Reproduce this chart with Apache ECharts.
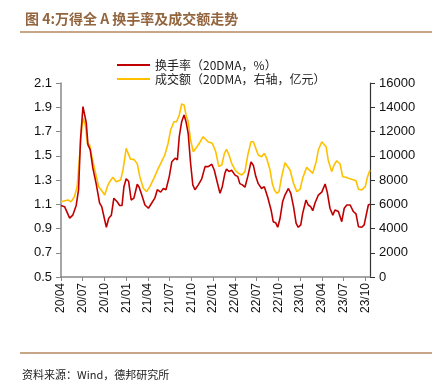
<!DOCTYPE html>
<html><head><meta charset="utf-8">
<script src="https://cdn.jsdelivr.net/npm/echarts@6/dist/echarts.min.js"></script>
<style>html,body{margin:0;padding:0;background:#fff}#c{width:436px;height:381px}</style>
</head><body><div id="c"></div>
<script>
var titleText = '图 4:万得全 A 换手率及成交额走势';
var sourceText = '资料来源：Wind，德邦研究所';
var turnoverName = '换手率（20DMA，%）';
var amountName = '成交额（20DMA，右轴，亿元）';
var xTickLabels = ['20/04','20/07','20/10','21/01','21/04','21/07','21/10','22/01','22/04','22/07','22/10','23/01','23/04','23/07','23/10'];
var leftTicks = [0.5, 2.1, 0.2];
var rightTicks = [0, 16000, 2000];

var turnoverDates = ['2020-04-01','2020-04-16','2020-05-07','2020-05-20','2020-06-04','2020-06-14','2020-06-22','2020-07-02','2020-07-06','2020-07-16','2020-07-23','2020-08-02','2020-08-13','2020-08-27','2020-09-11','2020-09-20','2020-10-02','2020-10-09','2020-10-19','2020-10-30','2020-11-10','2020-11-24','2020-12-04','2020-12-14','2020-12-22','2021-01-01','2021-01-11','2021-01-22','2021-02-03','2021-02-17','2021-02-25','2021-03-05','2021-03-19','2021-04-03','2021-04-17','2021-04-30','2021-05-10','2021-05-24','2021-06-05','2021-06-16','2021-06-30','2021-07-10','2021-07-24','2021-08-03','2021-08-11','2021-08-21','2021-08-31','2021-09-09','2021-09-18','2021-09-28','2021-10-07','2021-10-16','2021-10-30','2021-11-14','2021-11-28','2021-12-11','2021-12-26','2022-01-06','2022-01-16','2022-01-30','2022-02-09','2022-02-20','2022-02-27','2022-03-07','2022-03-18','2022-04-02','2022-04-13','2022-04-22','2022-05-02','2022-05-13','2022-05-25','2022-06-08','2022-06-18','2022-06-28','2022-07-08','2022-07-22','2022-08-03','2022-08-17','2022-09-01','2022-09-10','2022-09-20','2022-09-29','2022-10-08','2022-10-19','2022-10-29','2022-11-13','2022-11-23','2022-12-04','2022-12-15','2022-12-24','2023-01-04','2023-01-12','2023-01-18','2023-01-26','2023-02-05','2023-02-15','2023-02-24','2023-03-03','2023-03-17','2023-04-01','2023-04-15','2023-04-24','2023-05-05','2023-05-17','2023-05-26','2023-06-10','2023-06-24','2023-07-04','2023-07-15','2023-07-29','2023-08-12','2023-08-23','2023-09-03','2023-09-17','2023-09-27','2023-10-05','2023-10-14','2023-10-21'];
var turnoverValues = [1.09,1.08,0.985,1.01,1.09,1.22,1.63,1.905,1.92,1.77,1.59,1.55,1.40,1.27,1.11,1.08,0.97,0.91,0.985,1.01,1.15,1.12,1.09,1.09,1.245,1.31,1.29,1.135,1.15,1.265,1.24,1.18,1.094,1.067,1.11,1.15,1.22,1.20,1.23,1.22,1.33,1.45,1.48,1.465,1.66,1.78,1.836,1.78,1.685,1.44,1.26,1.22,1.26,1.31,1.41,1.41,1.43,1.38,1.30,1.19,1.245,1.355,1.39,1.37,1.38,1.34,1.33,1.27,1.26,1.24,1.33,1.45,1.42,1.33,1.27,1.23,1.245,1.16,1.053,0.956,0.948,0.91,0.98,1.12,1.176,1.23,1.19,1.08,0.943,0.91,0.93,1.025,1.04,1.135,1.094,1.08,1.047,1.11,1.176,1.20,1.267,1.20,1.067,1.01,1.053,1.04,0.956,1.067,1.094,1.094,1.04,1.02,0.915,0.91,0.93,1.01,1.094,1.10];

var amountDates = ['2020-04-01','2020-04-30','2020-05-13','2020-05-27','2020-06-08','2020-06-18','2020-06-28','2020-07-03','2020-07-12','2020-07-20','2020-07-30','2020-08-09','2020-08-23','2020-09-07','2020-09-18','2020-10-02','2020-10-13','2020-10-23','2020-11-06','2020-11-20','2020-12-08','2020-12-18','2021-01-01','2021-01-08','2021-01-19','2021-02-03','2021-02-17','2021-02-28','2021-03-12','2021-03-26','2021-04-09','2021-04-26','2021-05-14','2021-05-28','2021-06-11','2021-06-25','2021-07-05','2021-07-19','2021-07-30','2021-08-11','2021-08-21','2021-08-31','2021-09-09','2021-09-18','2021-09-28','2021-10-09','2021-10-20','2021-11-04','2021-11-20','2021-11-28','2021-12-10','2021-12-28','2022-01-12','2022-01-25','2022-02-07','2022-02-18','2022-02-27','2022-03-07','2022-03-18','2022-04-02','2022-04-16','2022-04-30','2022-05-13','2022-05-25','2022-06-08','2022-06-18','2022-06-28','2022-07-08','2022-07-22','2022-08-03','2022-08-13','2022-08-27','2022-09-06','2022-09-15','2022-09-25','2022-10-04','2022-10-15','2022-10-29','2022-11-08','2022-11-20','2022-12-04','2022-12-18','2023-01-01','2023-01-12','2023-01-22','2023-01-29','2023-02-09','2023-02-24','2023-03-08','2023-03-17','2023-04-01','2023-04-08','2023-04-19','2023-04-28','2023-05-12','2023-05-22','2023-06-03','2023-06-17','2023-06-28','2023-07-12','2023-07-21','2023-08-05','2023-08-23','2023-09-03','2023-09-17','2023-10-01','2023-10-10','2023-10-21'];
var amountValues = [6210,6350,6210,6620,7450,9920,12400,13090,12540,11030,10890,9920,8690,7450,7180,6760,7450,7860,8220,7860,8000,8830,10610,10750,9720,9700,9350,8270,7320,7040,7450,8140,8960,9510,10060,11030,12120,12810,12810,13360,14270,14190,13360,12810,11300,10330,10610,11030,11570,11570,11160,11030,10330,9100,9240,10200,10530,10060,9380,8830,8550,8410,8690,10060,11160,11160,10610,10060,9920,10200,9790,8830,7730,7180,6900,7040,8270,9430,9160,8830,7730,7040,7230,8140,8690,9050,8830,8550,9510,10470,11160,11300,10750,9650,8690,9240,9590,9320,8270,8220,8140,8060,7940,7230,7180,7450,8220,8830];

function monthIndex(s){
  var p = s.split('-');
  return (parseInt(p[0],10)-2020)*12 + (parseInt(p[1],10)-4) + (parseInt(p[2],10)-1)/30.5;
}
function pairs(d, v){ return d.map(function(x,i){ return [monthIndex(x), v[i]]; }); }
var xTickValues = xTickLabels.map(function(l,i){ return i*3; });
var xMax = monthIndex(turnoverDates[turnoverDates.length-1]);

var chart = echarts.init(document.getElementById('c'), null, {renderer:'canvas'});
var font = '"Liberation Sans", Arial, sans-serif';
var cjk = '"Noto Sans CJK SC", "Liberation Sans", sans-serif';
chart.setOption({
  backgroundColor:'#fff',
  animation:false,
  title:{ text:titleText, left:20, top:7, textStyle:{ fontFamily:cjk, fontSize:14, fontWeight:'bold', color:'#93653f' } },
  graphic:[
    {type:'line', shape:{x1:20,y1:32,x2:432,y2:32}, style:{stroke:'#b7875f', lineWidth:1.5}},
    {type:'line', shape:{x1:20,y1:353,x2:432,y2:353}, style:{stroke:'#b7875f', lineWidth:1.5}},
    {type:'text', left:22, top:369, style:{text:sourceText, font:'11px "Noto Sans CJK SC", sans-serif', fill:'#222'}}
  ],
  legend:{
    orient:'vertical', left:112, top:54, itemWidth:33, itemHeight:2, itemGap:2,
    textStyle:{ fontFamily:cjk, fontSize:12, color:'#222' },
    data:[{name:turnoverName, icon:'rect'},{name:amountName, icon:'rect'}]
  },
  grid:{ left:61, right:66, top:83, bottom:104 },
  xAxis:{
    type:'value', min:0, max:xMax,
    axisLine:{ lineStyle:{ color:'#888', width:1.5 } },
    axisTick:{ show:true, length:4, customValues:xTickValues, lineStyle:{ color:'#888' } },
    axisLabel:{ customValues:xTickValues, rotate:90, fontFamily:font, fontSize:12, color:'#111', margin:6,
      formatter:function(v){ var i = Math.round(v/3); return xTickLabels[i] || ''; } },
    splitLine:{ show:false }
  },
  yAxis:[
    { type:'value', min:leftTicks[0], max:leftTicks[1], interval:leftTicks[2],
      axisLine:{ show:true, lineStyle:{ color:'#888', width:1.5 } },
      axisTick:{ show:true, length:5, lineStyle:{ color:'#888' } },
      axisLabel:{ fontFamily:font, fontSize:13, color:'#111', margin:9, formatter:function(v){ return v.toFixed(1); } },
      splitLine:{ show:false } },
    { type:'value', min:rightTicks[0], max:rightTicks[1], interval:rightTicks[2], position:'right',
      axisLine:{ show:true, lineStyle:{ color:'#333', width:1.2 } },
      axisTick:{ show:true, length:5, lineStyle:{ color:'#333' } },
      axisLabel:{ fontFamily:font, fontSize:13, color:'#111', margin:9, formatter:function(v){ return String(Math.round(v)); } },
      splitLine:{ show:false } }
  ],
  series:[
    { name:turnoverName, type:'line', yAxisIndex:0, data:pairs(turnoverDates, turnoverValues), showSymbol:false, smooth:false, z:3,
      lineStyle:{ color:'#c00000', width:1.6 }, itemStyle:{ color:'#c00000' } },
    { name:amountName, type:'line', yAxisIndex:1, data:pairs(amountDates, amountValues), showSymbol:false, smooth:false, z:2,
      lineStyle:{ color:'#ffc000', width:1.6 }, itemStyle:{ color:'#ffc000' } }
  ]
});
</script>
</body></html>
